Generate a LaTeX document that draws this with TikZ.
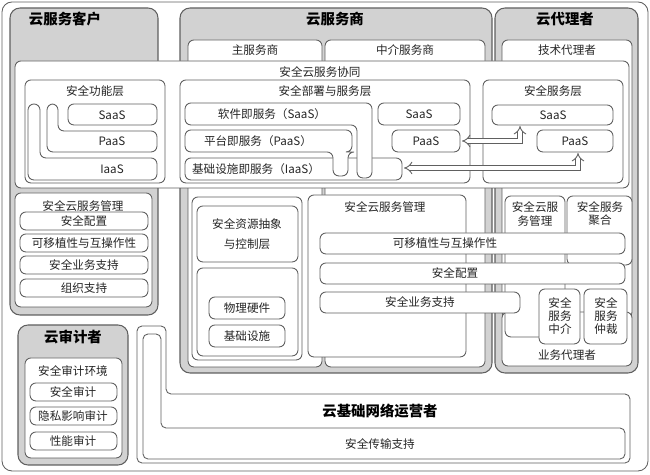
\documentclass[tikz,border=0pt]{standalone}
\usepackage{fontspec}
\setmainfont{Noto Sans CJK SC}
\usetikzlibrary{arrows.meta}
\definecolor{pgray}{HTML}{D2D2D2}
\definecolor{lgray}{HTML}{606060}
\tikzset{
  panel/.style = {draw=lgray, fill=pgray, rounded corners=2mm, line width=0.6pt},
  box/.style = {draw=lgray, fill=white, rounded corners=1.2mm, line width=0.5pt},
  lbl/.style = {font=\fontsize{6.6}{7.5}\selectfont, text=black!85, align=center},
  ttl/.style = {font=\fontsize{8.2}{9}\selectfont\bfseries, text=black},
  link/.style = {draw=lgray, double=white, double distance=2pt, line width=0.5pt, {Implies[length=3pt]}-{Implies[length=3pt]}}
}
\begin{document}
\begin{tikzpicture}[x=0.02cm, y=-0.02cm]
\useasboundingbox (0,0) rectangle (650,475);
\draw[box, rounded corners=2mm] (2,2) rectangle (648,471);
% client
\draw[panel] (10,8) rectangle (158,315);
\node (client) [ttl] at (65,19) {云服务客户};
% provider
\draw[panel] (180,8) rectangle (492,373);
\node (provider) [ttl] at (335,19) {云服务商};
\draw[box] (188,40) rectangle (322,367);
\draw[box] (325,40) rectangle (485,367);
\node (mainsp) [lbl] at (255,50) {主服务商};
\node (midsp) [lbl] at (405,50) {中介服务商};
% broker
\draw[panel] (495,8) rectangle (638,373);
\node (broker) [ttl] at (565,19) {云代理者};
\draw[box] (502,40) rectangle (632,318);
\node (tech) [lbl] at (567,50) {技术代理者};
\draw[box] (502,312) rectangle (632,366);
\node (biz) [lbl] at (567,355) {业务代理者};
% collaboration
\draw[box] (15,61) rectangle (629,188);
\node (collab) [lbl] at (320,72) {安全云服务协同};
\draw[box] (25,80) rectangle (165,183);
\node (funl) [lbl] at (95,91) {安全功能层};
\draw[box] (28,104) -- (40,104) -- (40,158) -- (157,158) -- (157,180) -- (28,180) -- cycle;
\draw[box] (47,104) -- (58,104) -- (58,131) -- (157,131) -- (157,152) -- (47,152) -- cycle;
\draw[box] (68,104) rectangle (157,125);
\node (fs) [lbl] at (112,115) {SaaS};
\node (fp) [lbl] at (112,141) {PaaS};
\node (fi) [lbl] at (112,169) {IaaS};
\draw[box] (180,80) rectangle (470,183);
\node (depl) [lbl] at (325,91) {安全部署与服务层};
\draw[box] (185,158) rectangle (402,180);
\draw[box] (185,130) -- (352,130) -- (352,152) -- (348,152) -- (348,176) -- (333,176) -- (333,152) -- (185,152) -- cycle;
\draw[box] (185,103) -- (372,103) -- (372,178) -- (357,178) -- (357,125) -- (185,125) -- cycle;
\node (ds) [lbl] at (272,114) {软件即服务（SaaS）};
\node (dp) [lbl] at (258,141) {平台即服务（PaaS）};
\node (di) [lbl] at (256,169) {基础设施即服务（IaaS）};
\draw[box] (378,103) rectangle (460,125);
\node (ss) [lbl] at (419,114) {SaaS};
\draw[box] (392,130) rectangle (460,152);
\node (sp) [lbl] at (426,141) {PaaS};
\draw[box] (483,80) rectangle (623,183);
\node (servl) [lbl] at (553,91) {安全服务层};
\draw[box] (492,105) rectangle (613,125);
\node (vs) [lbl] at (553,115) {SaaS};
\draw[box] (537,130) rectangle (613,152);
\node (vp) [lbl] at (575,141) {PaaS};
\draw[link] (462,141) -- (520,141) -- (520,126);
\draw[link] (404,168) -- (578,168) -- (578,153);
% provider lower
\draw[box] (192,197) rectangle (302,360);
\draw[box] (197,206) rectangle (298,262);
\node (abs) [lbl] at (247,234) {安全资源抽象\\[4pt]与控制层};
\draw[box] (197,268) rectangle (298,356);
\draw[box] (209,297) rectangle (285,319);
\node (hw) [lbl] at (247,308) {物理硬件};
\draw[box] (209,325) rectangle (285,347);
\node (infra) [lbl] at (247,336) {基础设施};
% broker lower
\draw[box] (505,196) -- (565,196) -- (565,337) -- (505,337) -- cycle;
\node (bmgmt) [lbl] at (535,214) {安全云服\\务管理};
\draw[box] (567,196) rectangle (632,265);
\node (agg) [lbl] at (600,214) {安全服务\\聚合};
\draw[box] (308,195) rectangle (466,357);
\node (pmgmt) [lbl] at (385,207) {安全云服务管理};
\draw[box] (320,233) rectangle (625,254);
\node (port) [lbl] at (445,243) {可移植性与互操作性};
\draw[box] (320,263) rectangle (625,284);
\node (conf) [lbl] at (455,273) {安全配置};
\draw[box] (320,292) rectangle (520,313);
\node (bsup) [lbl] at (420,302) {安全业务支持};
\draw[box] (539,289) rectangle (580,344);
\node (inter) [lbl] at (560,316) {安全\\服务\\中介};
\draw[box] (584,289) rectangle (627,344);
\node (arb) [lbl] at (606,316) {安全\\服务\\仲裁};
% client lower
\draw[box] (15,193) rectangle (152,307);
\node (cmgmt) [lbl] at (83,206) {安全云服务管理};
\foreach \n/\t/\y in {c1/安全配置/221, c2/可移植性与互操作性/243, c3/安全业务支持/265, c4/组织支持/288} {
  \draw[box] (20,\y-9) rectangle (148,\y+9);
  \node (\n) [lbl] at (84,\y) {\t};
}
% auditor
\draw[panel] (18,325) rectangle (128,465);
\node (audit) [ttl] at (73,337) {云审计者};
\draw[box] (25,358) rectangle (122,458);
\node (aenv) [lbl] at (73,371) {安全审计环境};
\foreach \n/\t/\y in {a1/安全审计/392, a2/隐私影响审计/416, a3/性能审计/441} {
  \draw[box] (30,\y-9) rectangle (117,\y+9);
  \node (\n) [lbl] at (73,\y) {\t};
}
% carrier
\draw[box, rounded corners=1mm] (137,326) -- (166,326) -- (166,394) -- (630,394) -- (630,463) -- (137,463) -- cycle;
\draw[box, rounded corners=1mm] (143,334) -- (161,334) -- (161,428) -- (625,428) -- (625,459) -- (143,459) -- cycle;
\node (carrier) [ttl] at (380,411) {云基础网络运营者};
\node (trans) [lbl] at (380,444) {安全传输支持};
\end{tikzpicture}
\end{document}
